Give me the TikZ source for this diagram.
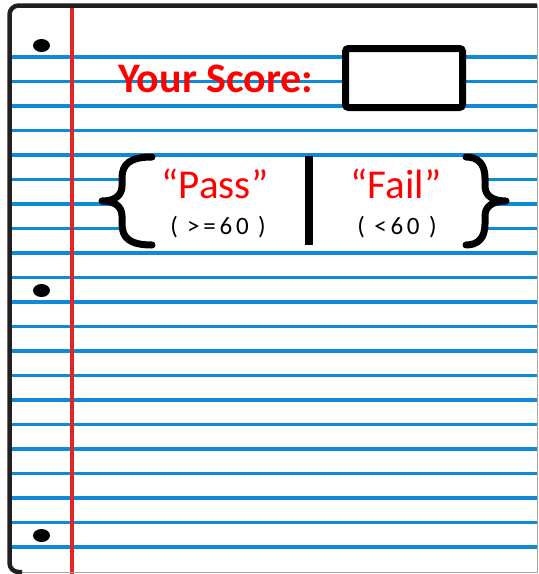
\documentclass[tikz,border=0pt]{standalone}
\usepackage{fontspec}
\setmainfont{Carlito}
\usepackage{xcolor}
\usepackage{tikz}
\usetikzlibrary{positioning}
\definecolor{ruleblue}{RGB}{16,138,214}
\definecolor{marginred}{RGB}{222,38,38}
\definecolor{coverdark}{RGB}{35,31,32}

\begin{document}
\begin{tikzpicture}[
    x=1pt, y=-1pt,
    ruled/.style={draw=ruleblue, line width=3.6pt},
    margin/.style={draw=marginred, line width=4pt},
    edge/.style={draw=coverdark, line width=4.5pt, rounded corners=9pt},
    hole/.style={fill=black},
    scoretext/.style={text=red, font=\fontsize{42}{42}\selectfont\bfseries},
    scorebox/.style={rectangle, draw, fill=white, line width=7pt, rounded corners=3pt, minimum width=117pt, minimum height=59pt},
    verdict/.style={text=red, font=\fontsize{41}{41}\selectfont},
    bound/.style={font=\fontsize{25}{25}\selectfont\addfontfeatures{LetterSpace=15}},
    brace/.style={draw=black, fill=white, line width=7pt, line cap=round, line join=round},
    divider/.style={draw=black, line width=8pt}
]
    \useasboundingbox (0,0) rectangle (539,574);

    % Ruled lines
    \foreach \k in {0,...,20}
        \draw[ruled] (12,{57+24.5*\k}) -- (537,{57+24.5*\k});

    % Margin line
    \draw[margin] (72,4) -- (72,574);

    % Paper edges
    \draw[gray!70, line width=1pt] (537,5) -- (537,572.5) -- (14,572.5);
    \draw[edge] (537,5.5) -- (9.5,5.5) -- (9.5,572) -- (22,572);

    % Punch holes
    \fill[hole] (41.5,45.5) ellipse [x radius=8.5pt, y radius=6.5pt];
    \fill[hole] (41.5,290.5) ellipse [x radius=8.5pt, y radius=6.5pt];
    \fill[hole] (41.5,535.5) ellipse [x radius=8.5pt, y radius=6.5pt];

    % Score
    \node[scoretext, anchor=base] (scorelabel) at (216,92) {Your Score:};
    \node[scorebox] (scorefield) at (404,78) {};

    % Result choices
    \fill[white] (150,158) rectangle (467,250);
    \draw[brace] (152,157) .. controls (130,157) and (122,164) .. (122,178) -- (122,186)
        .. controls (122,196) and (114,201) .. (102,201)
        .. controls (114,201) and (122,206) .. (122,216) -- (122,224)
        .. controls (122,238) and (130,245) .. (152,245);
    \draw[brace] (466,157) .. controls (478,157) and (485,164) .. (485,178) -- (485,186)
        .. controls (485,196) and (493,201) .. (506,201)
        .. controls (493,201) and (485,206) .. (485,216) -- (485,224)
        .. controls (485,238) and (478,245) .. (466,245);
    \draw[divider] (308.5,156) -- (308.5,245);

    \node[verdict, anchor=base] (pass) at (215,198) {“Pass”};
    \node[bound, anchor=base] (passbound) at (218,234) {( >=60 )};
    \node[verdict, anchor=base] (fail) at (396,198) {“Fail”};
    \node[bound, anchor=base] (failbound) at (397,234) {( <60 )};

\end{tikzpicture}
\end{document}
